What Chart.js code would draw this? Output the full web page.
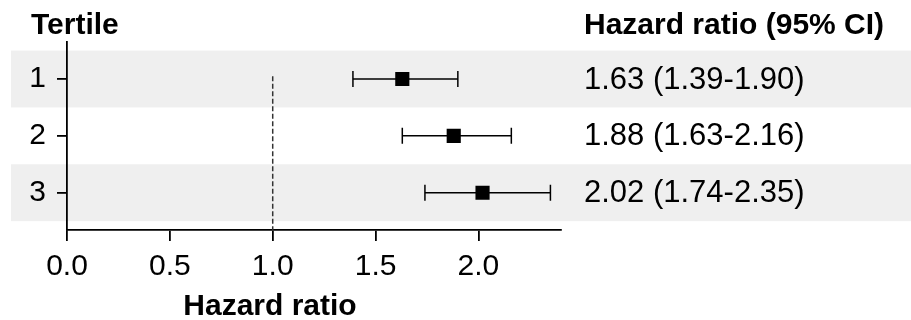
<!DOCTYPE html>
<html>
<head>
<meta charset="utf-8">
<script src="https://cdn.jsdelivr.net/npm/chart.js@4.4.1/dist/chart.umd.min.js"></script>
<style>
  html, body { margin: 0; padding: 0; background: #fff; }
  #wrap { width: 911px; height: 320px; }
</style>
</head>
<body>
<div id="wrap"><canvas id="forest" width="911" height="320"></canvas></div>
<script>
const tertiles = [1, 2, 3];
const hazardRatio = [1.63, 1.88, 2.02];
const ciLower = [1.39, 1.63, 1.74];
const ciUpper = [1.90, 2.16, 2.35];
const xTicks = [0, 0.5, 1, 1.5, 2];
const refValue = 1;

const fontFamily = '"Liberation Sans", Arial, Helvetica, sans-serif';
const fontSize = 30;

// one line dataset per tertile for the confidence interval
const ciSets = tertiles.map((t, i) => ({
  type: 'line',
  data: [{ x: ciLower[i], y: t }, { x: ciUpper[i], y: t }],
  borderColor: '#000',
  borderWidth: 1.5,
  pointStyle: 'line',
  rotation: 90,
  pointRadius: 8,
  pointBorderWidth: 1.5,
  pointBorderColor: '#000',
  order: 2
}));

const rowLabel = i =>
  hazardRatio[i].toFixed(2) + ' (' + ciLower[i].toFixed(2) + '-' + ciUpper[i].toFixed(2) + ')';

const forestDecor = {
  id: 'forestDecor',
  beforeDraw(chart) {
    const ctx = chart.ctx;
    const y = chart.scales.y;
    ctx.save();
    ctx.fillStyle = '#efefef';
    tertiles.forEach((t, i) => {
      if (i % 2 === 0) {
        const top = y.getPixelForValue(t - 0.5);
        const bot = y.getPixelForValue(t + 0.5);
        ctx.fillRect(11, top, chart.width - 11, bot - top);
      }
    });
    ctx.restore();
  },
  afterDraw(chart) {
    const ctx = chart.ctx;
    const y = chart.scales.y;
    ctx.save();
    ctx.fillStyle = '#000';
    ctx.textBaseline = 'middle';
    ctx.textAlign = 'left';
    ctx.font = 'bold ' + fontSize + 'px ' + fontFamily;
    ctx.fillText('Tertile', 31, 26);
    ctx.fillText('Hazard ratio (95% CI)', 584, 26);
    ctx.font = '31px ' + fontFamily;
    tertiles.forEach((t, i) => {
      ctx.fillText(rowLabel(i), 584, y.getPixelForValue(t) + 1);
    });
    ctx.textAlign = 'center';
    ctx.font = 'bold ' + fontSize + 'px ' + fontFamily;
    ctx.fillText('Hazard ratio', 270, 307);
    ctx.restore();
  }
};

new Chart(document.getElementById('forest'), {
  type: 'scatter',
  data: {
    datasets: [
      {
        type: 'line',
        data: [{ x: refValue, y: 0.95 }, { x: refValue, y: 3.656 }],
        borderColor: '#333',
        borderWidth: 1.5,
        borderDash: [5, 2.5],
        pointRadius: 0,
        order: 3
      },
      ...ciSets,
      {
        data: tertiles.map((t, i) => ({ x: hazardRatio[i], y: t })),
        pointStyle: 'rect',
        pointRadius: 10,
        pointBackgroundColor: '#000',
        pointBorderWidth: 0,
        order: 1
      }
    ]
  },
  options: {
    responsive: false,
    animation: false,
    layout: { padding: { left: 0, right: 350.3, top: 41.7, bottom: 0 } },
    plugins: {
      legend: { display: false },
      tooltip: { enabled: false }
    },
    scales: {
      x: {
        type: 'linear',
        min: 0,
        max: 2.4,
        afterBuildTicks: s => { s.ticks = xTicks.map(v => ({ value: v })); },
        afterFit: s => { s.height = 90; },
        ticks: {
          color: '#000',
          padding: 8,
          font: { family: fontFamily, size: fontSize },
          callback: v => Number(v).toFixed(1)
        },
        grid: { drawOnChartArea: false, drawTicks: true, tickLength: 11, color: '#000', lineWidth: 1.8 },
        border: { color: '#000', width: 1.8 }
      },
      y: {
        type: 'linear',
        reverse: true,
        min: 0.344,
        max: 3.656,
        afterBuildTicks: s => { s.ticks = tertiles.map(v => ({ value: v })); },
        afterFit: s => { s.width = 67; },
        ticks: {
          color: '#000',
          padding: 11,
          font: { family: fontFamily, size: fontSize },
          callback: v => String(v)
        },
        grid: { drawOnChartArea: false, drawTicks: true, tickLength: 10, color: '#000', lineWidth: 1.8 },
        border: { color: '#000', width: 1.8 }
      }
    }
  },
  plugins: [forestDecor]
});
</script>
</body>
</html>
